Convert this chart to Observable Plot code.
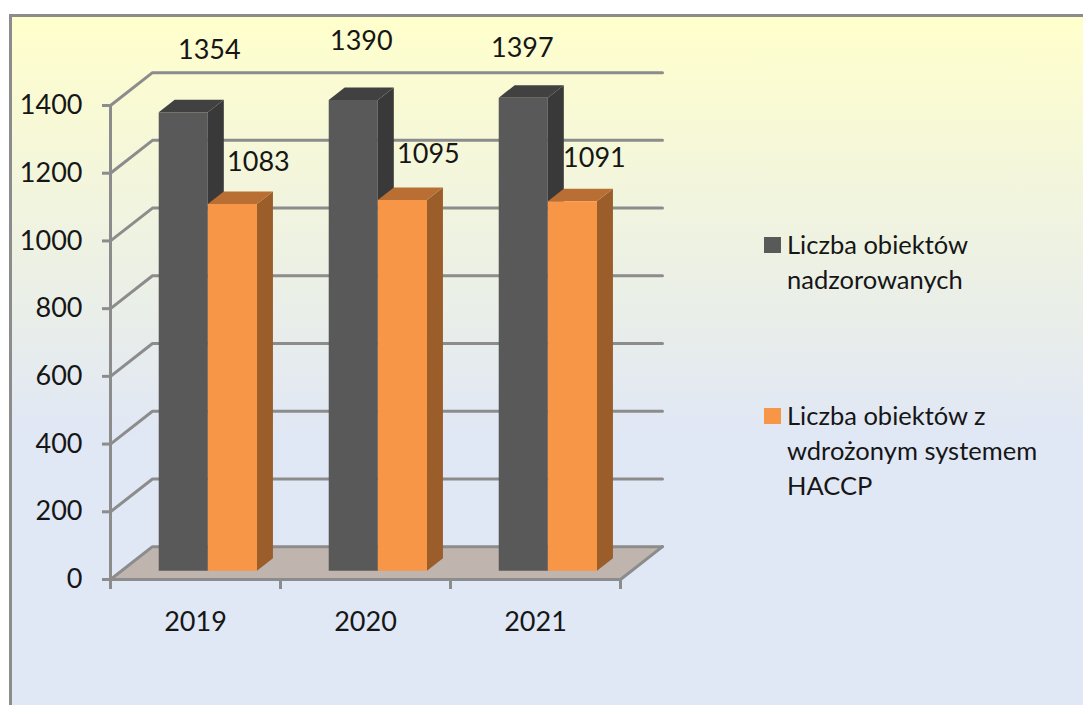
<!DOCTYPE html>
<html lang="pl">
<head>
<meta charset="utf-8">
<script src="https://cdn.jsdelivr.net/npm/d3@7"></script>
<script src="https://cdn.jsdelivr.net/npm/@observablehq/plot@0.6"></script>
<style>
  html, body { margin: 0; padding: 0; background: #fff; }
  #page { position: relative; width: 1083px; height: 705px; overflow: hidden; font-family: Lato, "Open Sans", sans-serif; color: #161616; }
  #panel { position: absolute; left: 9px; top: 14px; width: 1100px; height: 720px; box-sizing: border-box; border: 3px solid #8c8c8c;
           background: linear-gradient(180deg, #ffffcc 0%, #e0e7f5 59%, #e0e7f5 100%); }
  #chart { position: absolute; left: 0; top: 0; }
  #chart svg { display: block; background: transparent; overflow: visible; }
  .entry { position: absolute; left: 764px; display: flex; align-items: flex-start; font-size: 25.5px; line-height: 35px; }
  .swatch { width: 17px; height: 16px; margin-top: 10px; margin-right: 6px; flex: none; }
</style>
</head>
<body>
<div id="page">
  <div id="panel"></div>
  <div id="chart"></div>
  <div id="legend"></div>
</div>
<script>
const years = ["2019", "2020", "2021"];
const supervised = [1354, 1390, 1397];
const haccp = [1083, 1095, 1091];
const seriesNames = [["Liczba obiektów", "nadzorowanych"], ["Liczba obiektów z", "wdrożonym systemem", "HACCP"]];
const yTicks = [0, 200, 400, 600, 800, 1000, 1200, 1400];

// Oblique 3D projection, in scale units: depth 0 is the front plane, 1 the back wall
const depthX = 0.247, depthY = 97;
const project = ([x, v, z]) => ({ x: x + z * depthX, y: v + z * depthY });
const grey = "#8c8c8c";
const ink = "#161616";

const poly = (pts, fill) => Plot.line(pts.map(project), { x: "x", y: "y", fill, stroke: "none" });
const wire = (pts, sw = 3) => Plot.line(pts.map(project), { x: "x", y: "y", stroke: grey, strokeWidth: sw });

// Bars occupy this slice of the depth, and this slice of each category
const zNear = 0.27, zFar = 0.65;
const barOffsets = [[0.217, 0.506], [0.506, 0.795]];
const shades = [
  { front: "#595959", side: "#393939", top: "#414141" },
  { front: "#f79646", side: "#9b5d2a", top: "#b96f33" }
];

function bar(i, s, v) {
  const [a, b] = barOffsets[s].map((o) => i + o);
  const c = shades[s];
  return [
    poly([[b, 0, zNear], [b, 0, zFar], [b, v, zFar], [b, v, zNear]], c.side),
    poly([[a, v, zNear], [a, v, zFar], [b, v, zFar], [b, v, zNear]], c.top),
    poly([[a, 0, zNear], [b, 0, zNear], [b, v, zNear], [a, v, zNear]], c.front)
  ];
}

// Label offsets from the top of each bar's front face (the chart places them by hand)
const labelShift = [
  [[26, -62], [8, -59], [-1, -49]],
  [[26, -42], [26, -46], [22, -43]]
];
function label(i, s, v) {
  const [dx, dy] = labelShift[s][i];
  const mid = d3.mean(barOffsets[s]) + i;
  const p = project([mid, v, zNear]);
  return Plot.text([String(v)], { x: () => p.x, y: () => p.y, text: (d) => d, dx, dy, fontSize: 27, fill: ink });
}

const series = [supervised, haccp];
const chart = Plot.plot({
  width: 1083,
  height: 705,
  marginLeft: 110,
  marginRight: 463,
  marginTop: 105,
  marginBottom: 126,
  style: { background: "transparent", fontFamily: "Lato, 'Open Sans', sans-serif" },
  x: { domain: [0, 3], axis: null },
  y: { domain: [0, 1400], axis: null },
  marks: [
    poly([[0, 0, 0], [0, 0, 1], [3, 0, 1], [3, 0, 0]], "#c0b4ae"),
    wire([[3, 0, 0], [3, 0, 1]]),
    ...yTicks.map((t) => wire([[0, t, 0], [0, t, 1], [3, t, 1]])),
    Plot.ruleX([0], { y1: 0, y2: 1400, stroke: grey, strokeWidth: 3 }),
    wire([[0, 0, 0], [3, 0, 0]]),
    ...years.flatMap((_, i) => series.flatMap((vals, s) => bar(i, s, vals[i]))),
    Plot.axisY({ ticks: yTicks, tickSize: 8, tickPadding: 20, stroke: grey, strokeWidth: 3, tickFormat: (d) => String(d), fontSize: 27, fill: ink, label: null }),
    Plot.axisX({ ticks: [0, 1, 2, 3], tickSize: 10, tickFormat: () => "", stroke: grey, strokeWidth: 3, label: null }),
    Plot.axisX({ ticks: [0.5, 1.5, 2.5], tickSize: 0, tickPadding: 32, tickFormat: (d) => years[d - 0.5], fontSize: 27, fill: ink, label: null }),
    ...years.flatMap((_, i) => series.map((vals, s) => label(i, s, vals[i])))
  ]
});
document.getElementById("chart").appendChild(chart);

const tops = [227, 398];
const legend = document.getElementById("legend");
seriesNames.forEach((lines, s) => {
  const e = document.createElement("div");
  e.className = "entry";
  e.style.top = tops[s] + "px";
  const sw = document.createElement("div");
  sw.className = "swatch";
  sw.style.background = shades[s].front;
  const t = document.createElement("div");
  t.innerHTML = lines.join("<br>");
  e.append(sw, t);
  legend.appendChild(e);
});
</script>
</body>
</html>
